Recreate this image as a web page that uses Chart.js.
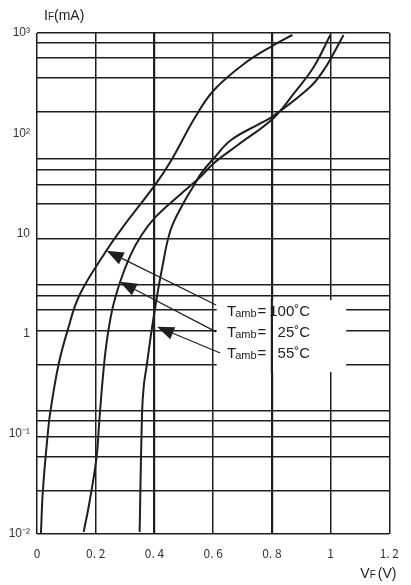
<!DOCTYPE html>
<html>
<head>
<meta charset="utf-8">
<script src="https://cdn.jsdelivr.net/npm/chart.js@4/dist/chart.umd.min.js"></script>
<style>
  html, body { margin: 0; padding: 0; background: #fff; }
</style>
</head>
<body>
<canvas id="ivChart" width="411" height="585"></canvas>
<script>
// Forward voltage (V) / forward current (mA)
const vf100 = [0.0135, 0.020, 0.036, 0.046, 0.074, 0.104, 0.145, 0.236, 0.285, 0.404, 0.458, 0.539, 0.603, 0.708, 0.806, 0.870];
const if100 = [0.0102, 0.027, 0.095, 0.17, 0.5, 1.07, 2.43, 6.7, 10.8, 31, 54, 145, 270, 500, 758, 955];

const vf25 = [0.159, 0.179, 0.203, 0.212, 0.2235, 0.236, 0.256, 0.283, 0.317, 0.354, 0.404, 0.482, 0.556, 0.603, 0.684, 0.806, 0.875, 0.943, 0.999];
const if25 = [0.0105, 0.021, 0.059, 0.132, 0.344, 0.769, 1.72, 3.27, 5.94, 9.43, 14.6, 23.6, 36.5, 50.5, 76.2, 142, 250, 461, 955];

const vf55 = [0.3495, 0.358, 0.364, 0.374, 0.388, 0.405, 0.425, 0.455, 0.499, 0.539, 0.559, 0.603, 0.661, 0.762, 0.806, 0.931, 0.977, 1.004, 1.044];
const if55 = [0.0105, 0.166, 0.307, 0.486, 0.968, 2.02, 4.31, 10.8, 20.1, 31.6, 39.8, 56.5, 85.5, 126, 149, 291, 428, 580, 955];

// Axis ticks
const xTickVals = [0, 0.2, 0.4, 0.6, 0.8, 1.0, 1.2];
const xTickLabels = ['0', '0. 2', '0. 4', '0. 6', '0. 8', '1', '1. 2'];
const yTickVals = [1000, 100, 10, 1, 0.1, 0.01];
const yTickLabels = ['10\u00B3', '10\u00B2', '10', '1', '10\u207B\u00B9', '10\u207B\u00B2'];
// horizontal rules as printed on the (scanned) sheet
const yGridVals = [1000, 800, 560, 354, 162, 55, 43.5, 30.8, 19.6, 8.93, 3.05, 2.41, 1.72, 1.08, 0.494, 0.169, 0.134, 0.0944, 0.059, 0.0268, 0.01];

// Legend labels, in the order of the arrows
const tempLabels = ['100\u02DAC', '25\u02DAC', '55\u02DAC'];

// annotation placement, in data units
const arrowTips = [[0.237, 6.7], [0.282, 3.3], [0.409, 1.17]];
const arrowTails = [[0.610, 1.93], [0.610, 1.04], [0.624, 0.64]];
const labelRows = [1.64, 1.01, 0.625];
const labelLeft = 0.647, labelRight = 0.930;
const maskBox = { x0: 0.612, x1: 1.053, yTop: 2.16, yBot: 0.414 };

const ink = '#1e1e1e';

function toPoints(xs, ys) {
  return xs.map((v, i) => ({ x: v, y: ys[i] }));
}

function curve(xs, ys) {
  return {
    data: toPoints(xs, ys),
    borderColor: ink,
    borderWidth: 2,
    pointRadius: 0,
    fill: false,
    tension: 0.4
  };
}

// Draw the Tamb legend, arrows and axis titles
const annotate = {
  id: 'annotate',
  beforeDatasetsDraw(chart) {
    const { ctx, scales: { x, y } } = chart;
    ctx.save();
    // white patch behind the legend text (breaks the horizontal rules)
    const l = x.getPixelForValue(maskBox.x0), r = x.getPixelForValue(maskBox.x1);
    const t = y.getPixelForValue(maskBox.yTop), b = y.getPixelForValue(maskBox.yBot);
    ctx.fillStyle = '#fff';
    ctx.fillRect(l, t, r - l, b - t);
    // the 0.8 V rule still runs through it
    const gx = x.getPixelForValue(0.8);
    ctx.strokeStyle = ink;
    ctx.lineWidth = 2.2;
    ctx.beginPath();
    ctx.moveTo(gx, t - 1);
    ctx.lineTo(gx, b + 1);
    ctx.stroke();
    ctx.restore();
  },
  afterDraw(chart) {
    const { ctx, chartArea, scales: { x, y } } = chart;
    ctx.save();
    ctx.fillStyle = ink;
    ctx.strokeStyle = ink;

    // arrows
    arrowTips.forEach((tip, i) => {
      const tx = x.getPixelForValue(tip[0]), ty = y.getPixelForValue(tip[1]);
      const sx = x.getPixelForValue(arrowTails[i][0]), sy = y.getPixelForValue(arrowTails[i][1]);
      const len = Math.hypot(tx - sx, ty - sy);
      const ux = (tx - sx) / len, uy = (ty - sy) / len;
      const bx = tx - ux * 17, by = ty - uy * 17;
      ctx.lineWidth = 1.2;
      ctx.beginPath();
      ctx.moveTo(sx, sy);
      ctx.lineTo(bx, by);
      ctx.stroke();
      ctx.beginPath();
      ctx.moveTo(tx, ty);
      ctx.lineTo(bx - uy * 6.5, by + ux * 6.5);
      ctx.lineTo(bx + uy * 6.5, by - ux * 6.5);
      ctx.closePath();
      ctx.fill();
    });

    // Tamb = ... labels
    ctx.textBaseline = 'middle';
    labelRows.forEach((row, i) => {
      const py = y.getPixelForValue(row);
      let px = x.getPixelForValue(labelLeft);
      ctx.textAlign = 'left';
      ctx.font = '15px "Liberation Sans", Arial, sans-serif';
      ctx.fillText('T', px, py);
      px += ctx.measureText('T').width - 1;
      ctx.font = '11px "Liberation Sans", Arial, sans-serif';
      ctx.fillText('amb', px, py + 2);
      px += ctx.measureText('amb').width + 1;
      ctx.font = '15px "Liberation Sans", Arial, sans-serif';
      ctx.fillText('=', px, py);
      ctx.textAlign = 'right';
      ctx.fillText(tempLabels[i], x.getPixelForValue(labelRight), py);
    });

    // axis titles
    ctx.textAlign = 'left';
    ctx.textBaseline = 'alphabetic';
    ctx.fillStyle = '#222';
    let tx = chartArea.left + 7;
    ctx.font = '14px "Liberation Sans", Arial, sans-serif';
    ctx.fillText('I', tx, 20);
    tx += ctx.measureText('I').width;
    ctx.font = '10px "Liberation Sans", Arial, sans-serif';
    ctx.fillText('F', tx, 20);
    tx += ctx.measureText('F').width;
    ctx.font = '14px "Liberation Sans", Arial, sans-serif';
    ctx.fillText('(mA)', tx, 20);

    tx = chartArea.right - 29;
    ctx.fillText('V', tx, 578);
    tx += ctx.measureText('V').width;
    ctx.font = '10px "Liberation Sans", Arial, sans-serif';
    ctx.fillText('F', tx, 578);
    tx += ctx.measureText('F').width + 2;
    ctx.font = '14px "Liberation Sans", Arial, sans-serif';
    ctx.fillText('(V)', tx, 578);
    ctx.restore();
  }
};

const ctx = document.getElementById('ivChart').getContext('2d');
new Chart(ctx, {
  type: 'line',
  data: {
    datasets: [curve(vf100, if100), curve(vf25, if25), curve(vf55, if55)]
  },
  options: {
    responsive: false,
    animation: false,
    layout: { padding: { top: 33, right: 18, bottom: 0, left: 0 } },
    plugins: {
      legend: { display: false },
      tooltip: { enabled: false }
    },
    scales: {
      x: {
        type: 'linear',
        min: 0,
        max: 1.2,
        afterBuildTicks: scale => { scale.ticks = xTickVals.map(v => ({ value: v })); },
        afterFit: scale => { scale.height = 51; },
        border: { display: false },
        grid: {
          color: ink,
          lineWidth: c => (c.index === 2 || c.index === 4) ? 2.2 : 1.5,
          drawTicks: false
        },
        ticks: {
          autoSkip: false,
          maxRotation: 0,
          padding: 12,
          color: '#333',
          font: { family: '"Noto Sans CJK JP", "DejaVu Sans", sans-serif', size: 12 },
          callback: (v, i) => xTickLabels[i]
        }
      },
      y: {
        type: 'logarithmic',
        min: 0.01,
        max: 1000,
        afterBuildTicks: scale => {
          const vals = [...new Set(yGridVals.concat(yTickVals))].sort((a, b) => a - b);
          scale.ticks = vals.map(v => ({ value: v }));
        },
        afterFit: scale => { scale.width = 37; },
        border: { display: false },
        grid: {
          color: c => yGridVals.includes(c.tick.value) ? ink : 'rgba(0,0,0,0)',
          lineWidth: 1.5,
          drawTicks: false
        },
        ticks: {
          autoSkip: false,
          padding: 7,
          color: '#333',
          font: { family: '"Liberation Sans", Arial, sans-serif', size: 12 },
          callback: v => {
            const i = yTickVals.indexOf(v);
            return i >= 0 ? yTickLabels[i] : '';
          }
        }
      }
    }
  },
  plugins: [annotate]
});
</script>
</body>
</html>
